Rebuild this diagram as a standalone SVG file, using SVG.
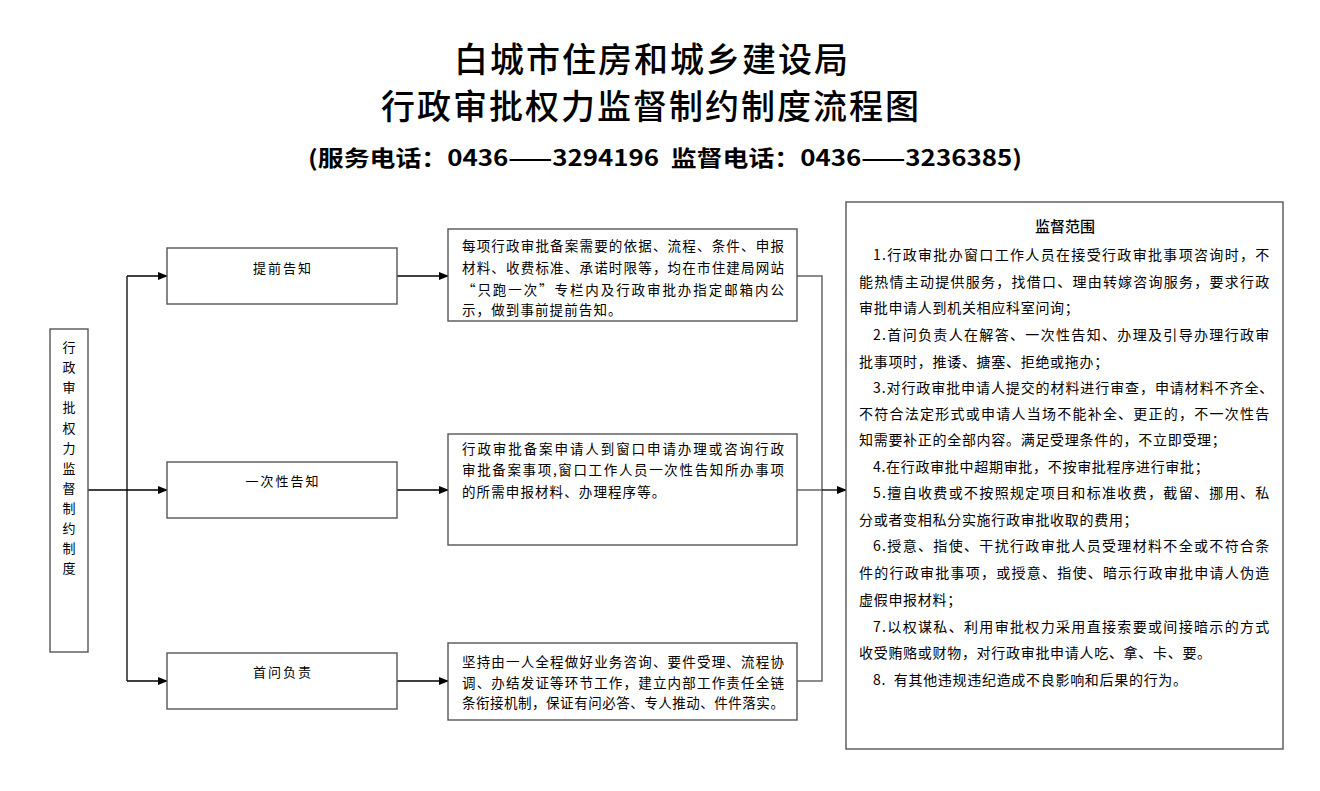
<svg xmlns="http://www.w3.org/2000/svg" width="1320" height="791" viewBox="0 0 1320 791">
<defs>
<marker id="arr" markerWidth="10" markerHeight="8" refX="9" refY="4" orient="auto" markerUnits="userSpaceOnUse">
<path d="M0,0 L10,4 L0,8 Z" fill="#000"/>
</marker>
<style>
.box{fill:#fff;stroke:#555;stroke-width:1.4}
.ln{fill:none;stroke:#000;stroke-width:1.3}
.ln2{fill:none;stroke:#666;stroke-width:1.5}
.t{font-family:"Noto Sans CJK SC","Noto Sans",sans-serif;fill:#000}
.lbl{font-size:13px;text-anchor:middle;letter-spacing:2px}
.d{font-size:13.5px;letter-spacing:1.1px}
.r{font-size:14px;letter-spacing:0.7px}
</style>
</defs>
<rect width="1320" height="791" fill="#fff"/>
<g id="title">
<text class="t" x="652" y="72" font-size="34" font-weight="500" text-anchor="middle" letter-spacing="2">白城市住房和城乡建设局</text>
<text class="t" x="651" y="119" font-size="34" font-weight="500" text-anchor="middle" letter-spacing="2">行政审批权力监督制约制度流程图</text>
<text class="t" x="308" y="166" font-size="22" font-weight="bold" textLength="714" lengthAdjust="spacingAndGlyphs">(服务电话：0436——3294196&#160;&#160;监督电话：0436——3236385)</text>
</g>
<g id="connectors">
<polyline class="ln" points="88,490 127,490"/>
<line class="ln" x1="127" y1="490" x2="167" y2="490" marker-end="url(#arr)"/>
<line class="ln" x1="127" y1="276" x2="127" y2="681"/>
<line class="ln" x1="127" y1="276" x2="167" y2="276" marker-end="url(#arr)"/>
<line class="ln" x1="127" y1="681" x2="167" y2="681" marker-end="url(#arr)"/>
<line class="ln" x1="397" y1="276" x2="448" y2="276" marker-end="url(#arr)"/>
<line class="ln" x1="397" y1="490" x2="448" y2="490" marker-end="url(#arr)"/>
<line class="ln" x1="397" y1="681" x2="448" y2="681" marker-end="url(#arr)"/>
<polyline class="ln2" points="797,276 822,276 822,681 797,681"/>
<line class="ln2" x1="797" y1="490" x2="822" y2="490"/>
<line class="ln" x1="822" y1="490" x2="846" y2="490" marker-end="url(#arr)"/>
</g>
<g id="root">
<rect class="box" x="50" y="329" width="38" height="323"/>
<g class="t" font-size="13" text-anchor="middle">
<text x="69" y="352">行</text><text x="69" y="372">政</text><text x="69" y="392">审</text><text x="69" y="412">批</text><text x="69" y="433">权</text><text x="69" y="453">力</text><text x="69" y="473">监</text><text x="69" y="493">督</text><text x="69" y="513">制</text><text x="69" y="533">约</text><text x="69" y="553">制</text><text x="69" y="573">度</text>
</g>
</g>
<g id="n1">
<rect class="box" x="167" y="248" width="230" height="56"/>
<text class="t lbl" x="283" y="273">提前告知</text>
</g>
<g id="n2">
<rect class="box" x="167" y="462" width="230" height="56"/>
<text class="t lbl" x="283" y="486">一次性告知</text>
</g>
<g id="n3">
<rect class="box" x="167" y="653" width="230" height="56"/>
<text class="t lbl" x="283" y="677">首问负责</text>
</g>
<g id="d1">
<rect class="box" x="448" y="229" width="349" height="92"/>
<text class="t d" x="462" y="251" textLength="323" lengthAdjust="spacing">每项行政审批备案需要的依据、流程、条件、申报</text>
<text class="t d" x="462" y="273" textLength="323" lengthAdjust="spacing">材料、收费标准、承诺时限等，均在市住建局网站</text>
<text class="t d" x="462" y="295" textLength="323" lengthAdjust="spacing">“只跑一次”专栏内及行政审批办指定邮箱内公</text>
<text class="t d" x="462" y="315">示，做到事前提前告知。</text>
</g>
<g id="d2">
<rect class="box" x="448" y="434" width="349" height="111"/>
<text class="t d" x="462" y="454" textLength="323" lengthAdjust="spacing">行政审批备案申请人到窗口申请办理或咨询行政</text>
<text class="t d" x="462" y="475" textLength="323" lengthAdjust="spacing">审批备案事项,窗口工作人员一次性告知所办事项</text>
<text class="t d" x="462" y="497">的所需申报材料、办理程序等。</text>
</g>
<g id="d3">
<rect class="box" x="448" y="643" width="349" height="77"/>
<text class="t d" x="462" y="667" textLength="323" lengthAdjust="spacing">坚持由一人全程做好业务咨询、要件受理、流程协</text>
<text class="t d" x="462" y="688" textLength="323" lengthAdjust="spacing">调、办结发证等环节工作，建立内部工作责任全链</text>
<text class="t d" x="462" y="708" textLength="323" lengthAdjust="spacing">条衔接机制，保证有问必答、专人推动、件件落实。</text>
</g>
<g id="scope">
<rect class="box" x="846" y="202" width="437" height="547"/>
<text class="t" x="1065" y="232" font-size="15" font-weight="500" text-anchor="middle">监督范围</text>
<text class="t r" x="873" y="260" textLength="397" lengthAdjust="spacing">1.行政审批办窗口工作人员在接受行政审批事项咨询时，不</text>
<text class="t r" x="859" y="287" textLength="411" lengthAdjust="spacing">能热情主动提供服务，找借口、理由转嫁咨询服务，要求行政</text>
<text class="t r" x="859" y="313">审批申请人到机关相应科室问询；</text>
<text class="t r" x="873" y="340" textLength="397" lengthAdjust="spacing">2.首问负责人在解答、一次性告知、办理及引导办理行政审</text>
<text class="t r" x="859" y="367">批事项时，推诿、搪塞、拒绝或拖办；</text>
<text class="t r" x="873" y="393" textLength="401" lengthAdjust="spacing">3.对行政审批申请人提交的材料进行审查，申请材料不齐全、</text>
<text class="t r" x="859" y="419" textLength="411" lengthAdjust="spacing">不符合法定形式或申请人当场不能补全、更正的，不一次性告</text>
<text class="t r" x="859" y="445">知需要补正的全部内容。满足受理条件的，不立即受理；</text>
<text class="t r" x="873" y="472">4.在行政审批中超期审批，不按审批程序进行审批；</text>
<text class="t r" x="873" y="498" textLength="397" lengthAdjust="spacing">5.擅自收费或不按照规定项目和标准收费，截留、挪用、私</text>
<text class="t r" x="859" y="525">分或者变相私分实施行政审批收取的费用；</text>
<text class="t r" x="873" y="551" textLength="397" lengthAdjust="spacing">6.授意、指使、干扰行政审批人员受理材料不全或不符合条</text>
<text class="t r" x="859" y="578" textLength="411" lengthAdjust="spacing">件的行政审批事项，或授意、指使、暗示行政审批申请人伪造</text>
<text class="t r" x="859" y="605">虚假申报材料；</text>
<text class="t r" x="873" y="632" textLength="397" lengthAdjust="spacing">7.以权谋私、利用审批权力采用直接索要或间接暗示的方式</text>
<text class="t r" x="859" y="658">收受贿赂或财物，对行政审批申请人吃、拿、卡、要。</text>
<text class="t r" x="873" y="685">8.&#160;&#160;有其他违规违纪造成不良影响和后果的行为。</text>
</g>
</svg>
